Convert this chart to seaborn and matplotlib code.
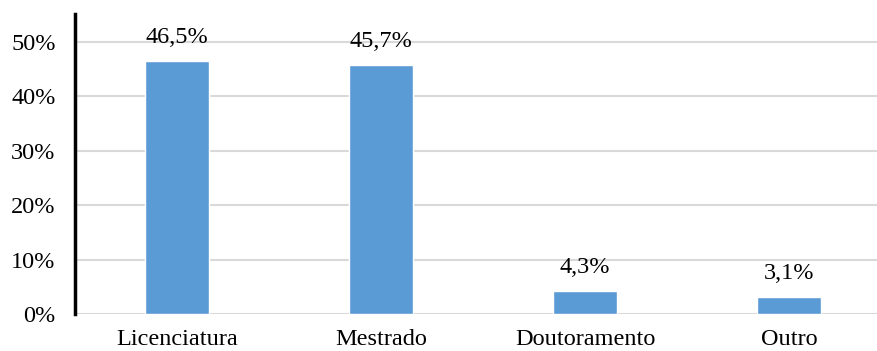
import matplotlib
matplotlib.use("Agg")
import matplotlib.pyplot as plt
import seaborn as sns
import pandas as pd
from matplotlib.ticker import FuncFormatter

categories = ["Licenciatura", "Mestrado", "Doutoramento", "Outro"]
values = [46.5, 45.7, 4.3, 3.1]
labels = ["46,5%", "45,7%", "4,3%", "3,1%"]

sns.set_theme(style="white")
plt.rcParams["font.family"] = ["Liberation Serif", "DejaVu Serif"]

df = pd.DataFrame({"grau": categories, "pct": values})

W, H = 877, 351
fig = plt.figure(figsize=(W / 100, H / 100), dpi=100)
ax = fig.add_axes([75 / W, 37 / H, 816 / W, 300 / H])

sns.barplot(data=df, x="grau", y="pct", color="#5B9BD5", width=0.31,
            saturation=1, ax=ax, zorder=3)

ax.set_ylim(0, 55.1)
ax.set_xlim(-0.5, 3.5)
ax.set_yticks([0, 10, 20, 30, 40, 50])
ax.yaxis.set_major_formatter(FuncFormatter(lambda v, _: f"{v:.0f}%"))
ax.grid(axis="y", color="#D9D9D9", linewidth=1.5, zorder=0)
ax.set_axisbelow(True)

for s in ["top", "right", "bottom"]:
    ax.spines[s].set_visible(False)
ax.spines["left"].set_color("black")
ax.spines["left"].set_linewidth(2.5)

fs = 17.5
ax.tick_params(axis="both", length=0, labelsize=fs, labelcolor="black")
ax.tick_params(axis="y", pad=14)
ax.tick_params(axis="x", pad=11)
ax.set_xlabel("")
ax.set_ylabel("")

for i, (v, t) in enumerate(zip(values, labels)):
    ax.annotate(t, (i, v), xytext=(0, 13), textcoords="offset points",
                ha="center", va="baseline", fontsize=fs, color="black")

fig.savefig("out.png", dpi=100)
